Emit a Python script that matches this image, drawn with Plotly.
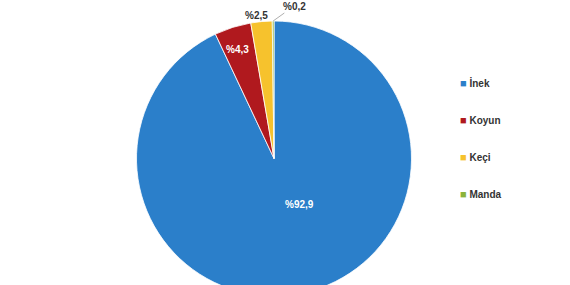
import math
import plotly.graph_objects as go

categories = ["İnek", "Koyun", "Keçi", "Manda"]
values = [92.9, 4.3, 2.5, 0.2]
value_labels = ["%92,9", "%4,3", "%2,5", "%0,2"]
colors = ["#2B7FCA", "#B0191E", "#F6C22D", "#8CB33A"]

# styling / geometry
W, H = 570, 296
M_T = 21
CX, CY, R = 274, M_T + 137.5, 137.5
label_r = [0.43, 0.89, 1.1, 1.0]
label_dang = [-13, 0, -1.5, 0]
label_font = dict(family="Liberation Sans, Arial", size=10, weight="bold")

fig = go.Figure()
fig.add_trace(go.Pie(
    labels=categories, values=values, sort=False, direction="clockwise", rotation=0,
    marker=dict(colors=colors, line=dict(color="white", width=0.8)),
    textinfo="none", showlegend=False, hoverinfo="label+percent",
    domain=dict(x=[0, 2 * CX / W], y=[0, 1]),
))

for name, c in zip(categories, colors):
    fig.add_trace(go.Scatter(
        x=[None], y=[None], mode="markers",
        name=f"<span style='color:{c};font-size:11px'>■</span> {name}", legendgroup=name,
        marker=dict(symbol="square", size=0.1, color="rgba(0,0,0,0)"), showlegend=True,
    ))

total = sum(values)
cum = 0.0
for i, (v, t) in enumerate(zip(values, value_labels)):
    mid = (cum + v / 2) / total * 2 * math.pi + math.radians(label_dang[i])
    cum += v
    px = CX + label_r[i] * R * math.sin(mid)
    py = CY - label_r[i] * R * math.cos(mid)
    xp, yp = px / W, 1 - (py - M_T) / (H - M_T)
    col = "white" if i < 2 else "#333333"
    if i == 3:
        fig.add_annotation(x=xp, y=yp, xref="paper", yref="paper", text=t,
                           showarrow=True, arrowhead=0, arrowwidth=0.8, arrowcolor="#999999",
                           ax=21, ay=-15, font=dict(color=col, **label_font))
    else:
        fig.add_annotation(x=xp, y=yp, xref="paper", yref="paper", text=t,
                           showarrow=False, font=dict(color=col, **label_font))

fig.update_layout(
    width=W, height=H,
    margin=dict(l=0, r=0, t=M_T, b=0),
    paper_bgcolor="white", plot_bgcolor="white",
    xaxis=dict(visible=False), yaxis=dict(visible=False),
    legend=dict(x=(460 - 40) / W, y=1 - (69 - M_T) / (H - M_T), xanchor="left", yanchor="top",
                tracegroupgap=18,
                font=dict(family="Liberation Sans, Arial", size=10, color="#333333", weight="bold"),
                bgcolor="rgba(0,0,0,0)"),
)

fig.write_html("out.html", post_script="document.body.style.overflow='hidden';document.documentElement.style.overflow='hidden';document.body.style.margin='0';")
